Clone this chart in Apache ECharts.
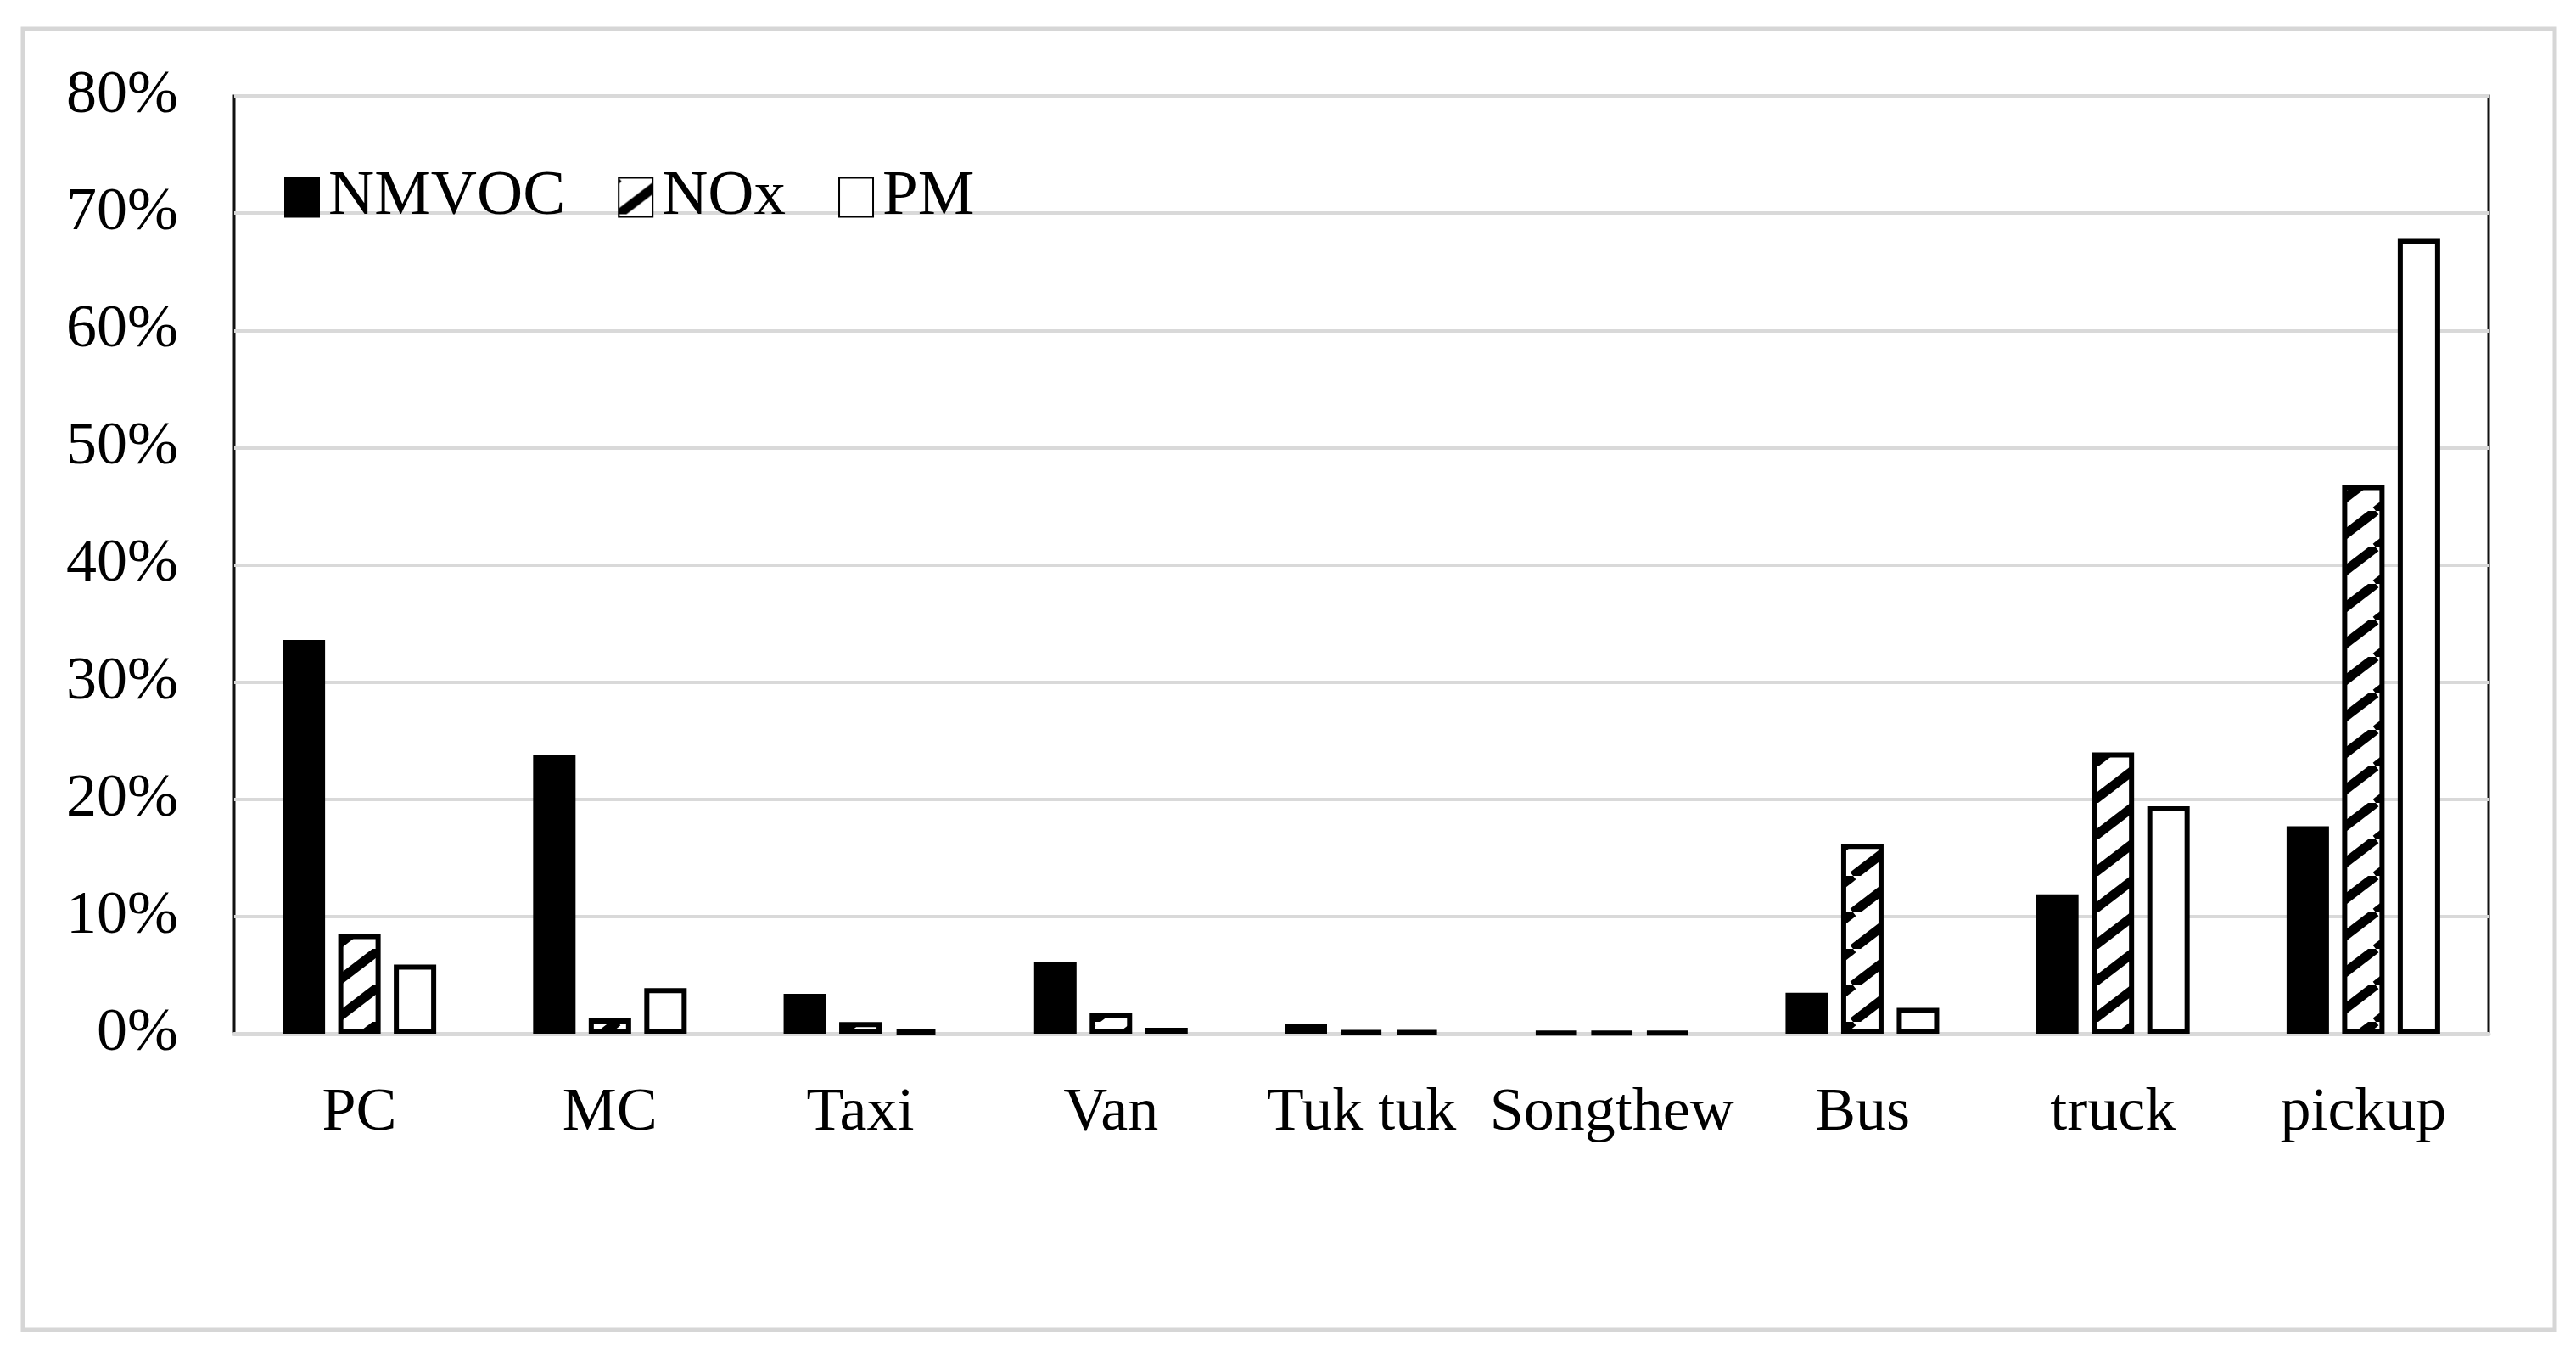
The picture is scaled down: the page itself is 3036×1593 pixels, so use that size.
<!DOCTYPE html>
<html>
<head>
<meta charset="utf-8">
<script src="https://cdn.jsdelivr.net/npm/echarts@6/dist/echarts.min.js"></script>
<style>
	html, body { margin: 0; padding: 0; background: #fff; }
	#chart { width: 3036px; height: 1593px; }
</style>
</head>
<body>
<div id="chart"></div>
<script>
	// vehicle types
	const categories = ['PC', 'MC', 'Taxi', 'Van', 'Tuk tuk', 'Songthew', 'Bus', 'truck', 'pickup']
	// share of emissions, %
	const nmvoc = [33.6, 23.8, 3.4, 6.1, 0.8, 0.1, 3.5, 11.9, 17.7]
	const nox = [8.5, 1.3, 1.0, 1.8, 0.2, 0.1, 16.2, 24.0, 46.8]
	const pm = [5.9, 3.9, 0.3, 0.5, 0.2, 0.1, 2.2, 19.4, 67.8]
	const yTicks = [0, 10, 20, 30, 40, 50, 60, 70, 80]

	const font = 'Liberation Serif'

	// diagonal hatch for NOx
	const hatch = document.createElement('canvas')
	hatch.width = 56
	hatch.height = 43
	const ctx = hatch.getContext('2d')
	ctx.fillStyle = '#fff'
	ctx.fillRect(0, 0, 56, 43)
	ctx.strokeStyle = '#000'
	ctx.lineWidth = 11
	for (let k = -1; k <= 1; k++) {
		ctx.beginPath()
		ctx.moveTo(k * 56, 43)
		ctx.lineTo(k * 56 + 56, 0)
		ctx.stroke()
	}

	const myChart = echarts.init(document.getElementById('chart'))

	const barStyle = (fill) => ({
		color: fill,
		borderColor: '#000',
		borderWidth: 6
	})

	const option = {
		backgroundColor: '#fff',
		animation: false,
		graphic: [
			{
				type: 'rect',
				z: -10,
				shape: { x: 27, y: 34, width: 2984, height: 1533 },
				style: { fill: null, stroke: '#d6d6d6', lineWidth: 5 }
			}
		],
		legend: {
			left: 330,
			top: 190,
			itemWidth: 40,
			itemHeight: 46,
			itemGap: 62,
			icon: 'rect',
			textStyle: {
				fontFamily: font,
				fontSize: 75,
				color: '#000',
				padding: [0, 0, 0, 6]
			},
			data: ['NMVOC', 'NOx', 'PM']
		},
		grid: {
			left: 276,
			right: 103,
			top: 113,
			bottom: 375,
			show: true,
			borderColor: '#111',
			borderWidth: 3
		},
		xAxis: {
			type: 'category',
			data: categories,
			axisTick: { show: false },
			axisLine: {
				lineStyle: { color: '#d9d9d9', width: 5 }
			},
			axisLabel: {
				interval: 0,
				margin: 58,
				fontFamily: font,
				fontSize: 72,
				color: '#000'
			}
		},
		yAxis: {
			type: 'value',
			min: yTicks[0],
			max: yTicks[yTicks.length - 1],
			interval: 10,
			axisLine: { show: false },
			axisTick: { show: false },
			axisLabel: {
				margin: 66,
				fontFamily: font,
				fontSize: 72,
				color: '#000',
				formatter: '{value}%'
			},
			splitLine: {
				lineStyle: { color: '#d9d9d9', width: 4 }
			}
		},
		series: [
			{
				name: 'NMVOC',
				type: 'bar',
				barWidth: 50,
				barGap: '31%',
				itemStyle: barStyle('#000'),
				data: nmvoc
			},
			{
				name: 'NOx',
				type: 'bar',
				barWidth: 50,
				barGap: '31%',
				itemStyle: barStyle({ image: hatch, repeat: 'repeat' }),
				data: nox
			},
			{
				name: 'PM',
				type: 'bar',
				barWidth: 50,
				barGap: '31%',
				itemStyle: barStyle('#fff'),
				data: pm
			}
		]
	}

	myChart.setOption(option)
</script>
</body>
</html>
